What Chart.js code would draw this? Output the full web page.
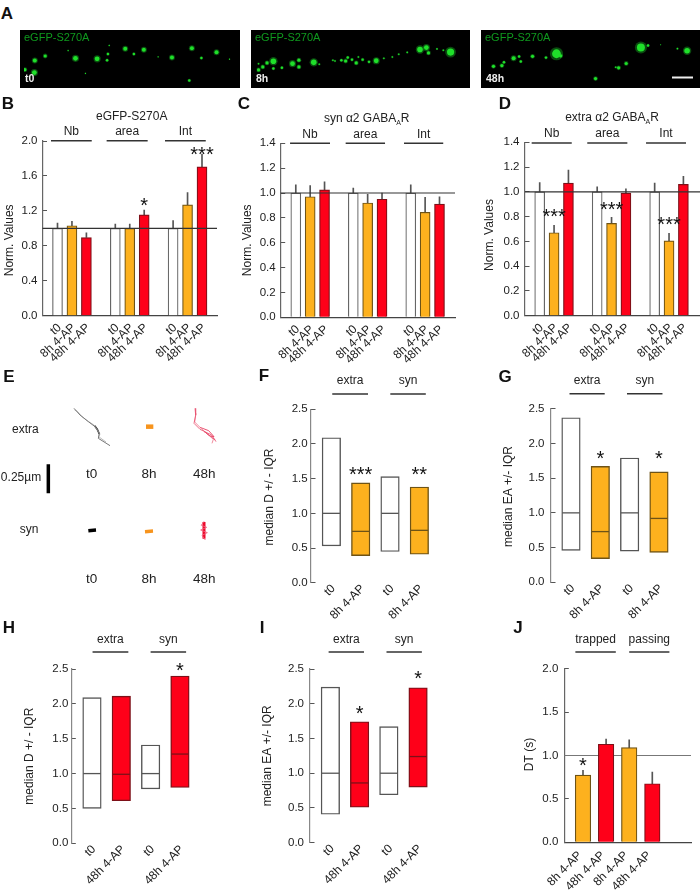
<!DOCTYPE html>
<html><head><meta charset="utf-8">
<style>
html,body{margin:0;padding:0;background:#fff;width:700px;height:890px;overflow:hidden;position:relative}
canvas{position:absolute;display:block}
.letter{position:absolute;font:bold 17px "Liberation Sans",Arial,sans-serif;color:#111;line-height:18px;transform:translate(-50%,-50%);z-index:5}
</style>
<script src="https://cdn.jsdelivr.net/npm/chart.js@4"></script>
</head><body>
<script>
// ---------- data ----------
const tripleIdx=[0,1,2,4,5,6,8,9,10];
const tripleLabels=['t0','8h 4-AP','48h 4-AP','t0','8h 4-AP','48h 4-AP','t0','8h 4-AP','48h 4-AP'];
const tripleKinds=['w','o','r','w','o','r','w','o','r'];
const groupLabels=['Nb','area','Int'];

const bValues=[1,1.03,0.895,1,1,1.155,1,1.27,1.705];
const bErrTop=[1.06,1.08,0.95,1.05,1.05,1.21,1.09,1.41,1.85];
const cValues=[1,0.97,1.025,1,0.92,0.95,1,0.845,0.91];
const cErrTop=[1.065,1.06,1.09,1.04,0.99,1.0,1.065,0.965,0.97];
const dValues=[1,0.67,1.07,1,0.745,0.99,1,0.605,1.06];
const dErrTop=[1.075,0.73,1.175,1.04,0.795,1.025,1.07,0.665,1.125];

const quadIdx=[0,1,2,3];
const fLabels=['t0','8h 4-AP','t0','8h 4-AP'];
const hLabels=['t0','48h 4-AP','t0','48h 4-AP'];
const fLow=[0.53,0.39,0.45,0.41], fHigh=[2.09,1.44,1.53,1.38], fMed=[1,0.74,1,0.755];
const gLow=[0.46,0.34,0.45,0.43], gHigh=[2.37,1.67,1.79,1.59], gMed=[1,0.73,1,0.92];
const hLow=[0.5,0.61,0.78,0.8],  hHigh=[2.09,2.11,1.41,2.4],  hMed=[1,0.99,1,1.28];
const iLow=[0.41,0.51,0.69,0.8], iHigh=[2.24,1.74,1.67,2.23], iMed=[1,0.86,1,1.24];

const jLabels=['8h 4-AP','48h 4-AP','8h 4-AP','48h 4-AP'];
const jValues=[0.775,1.13,1.09,0.675];
const jErrTop=[0.83,1.19,1.18,0.81];

// panel A: spots [x, y, radius] in image units
const spotsT0=[[2,125,2],[25,93,2.5],[49,77,2],[24,135,3],[102,58,.8],[119,85,3],[169,87,3],[194,70,1.5],[192,92,1.5],[234,52,2.5],[254,70,1.5],[277,55,2.5],[197,40,.8],[342,82,2.5],[388,50,2.5],[410,84,1.5],[445,64,2.5],[382,163,1.5],[475,88,.7],[142,138,.7],[310,80,.7]];
const spots8h=[[5,128,2],[15,117,2],[40,96,3.5],[25,102,2],[40,123,1.5],[60,120,1.5],[85,105,3],[100,92,2],[100,117,2],[135,100,3.5],[148,107,1],[185,95,1],[200,92,1.5],[215,82,1.5],[210,95,2],[225,90,1.5],[235,102,2],[250,90,1.5],[265,98,1.5],[282,94,3],[240,80,1],[320,80,1],[335,70,1],[355,63,1],[385,52,3.5],[400,45,3],[405,65,2],[457,62,4.5],[425,50,1],[440,55,1],[180,92,1],[300,85,1],[5,105,1]];
const spots48h=[[14,116,2],[34,113,2],[39,100,1.5],[62,85,2.5],[75,78,1.5],[79,97,1.5],[107,77,2],[139,82,1.5],[164,67,5.5],[174,75,2],[365,43,5],[382,35,1.5],[475,55,3.5],[452,47,1],[330,105,2],[312,122,2],[305,120,1],[257,164,2],[412,32,.6]];

// panel E: tracks in figure units
const trackExtraT0=[[222,55],[240,75],[265,95],[285,110],[298,130],[295,145],[330,167]];
const trackExtraT0b=[[224,60],[232,64],[246,80],[262,92],[283,106],[300,132],[296,140],[318,156]];
const trackExtraT0Core=[[284,107],[292,118],[298,132]];
const trackExtra8h=[[438,110],[460,110]];
const trackExtra48h=[[585,55],[587,75],[582,100],[600,118],[635,135],[648,155]];
const trackExtra48hB=[[588,70],[584,96],[604,116],[618,128],[640,148],[636,160]];
const trackExtra48hC=[[600,112],[626,122],[642,140],[630,138],[612,124],[646,150]];
const trackSynT0=[[265,422],[288,420]];
const trackSyn8h=[[435,425],[459,423]];
const trackSyn48h=[[612,394],[604,406],[620,412],[602,420],[622,428],[606,436],[616,450]];
const trackSyn48hCore=[[612,396],[612,446]];
const scaleBarE=[[145,223],[145,310]];

// ---------- helpers ----------
const FONT='"Liberation Sans",Arial,sans-serif';
const TXT='#222';
const COL={w:['#ffffff','#666666'],o:['#FDB11E','#6e5316'],r:['#FE0019','#7d1018']};
const pts=(a)=>a.map(p=>({x:p[0],y:p[1]}));

function mkCanvas(l,t,w,h){
  const c=document.createElement('canvas');
  c.width=w;c.height=h;
  c.style.cssText=`left:${l}px;top:${t}px;width:${w}px;height:${h}px`;
  document.body.appendChild(c);return c;
}
function starText(ctx,x,y,t){
  ctx.font='20px '+FONT;ctx.textAlign='center';ctx.textBaseline='alphabetic';ctx.fillStyle='#111';
  ctx.fillText(t,x,y+9.5);
}
function panel(cfg){
  const P=cfg.plot;
  const cl=Math.max(0,Math.round(cfg.titleX-7.2)), ct=Math.round(P.t-50), cr=Math.min(700,Math.round(P.r+8)), cb=Math.min(890,Math.round(P.b+62));
  const min=(P.l-cfg.x0)/cfg.dx, max=(P.r-cfg.x0)/cfg.dx;
  const idx=cfg.idx;
  const datasets=[];
  const bgs=cfg.kinds.map(k=>COL[k][0]);
  const bds=cfg.kinds.map((k,i)=>cfg.box&&k==='w'?'#555555':COL[k][1]);
  if(cfg.err){
    datasets.push({type:'bar',data:idx.map((x,i)=>({x,y:[cfg.values[i],cfg.err[i]]})),backgroundColor:'#555',borderWidth:0,barThickness:1,grouped:false,order:2});
  }
  if(cfg.box){
    datasets.push({type:'bar',data:idx.map((x,i)=>({x,y:[cfg.low[i],cfg.high[i]]})),backgroundColor:bgs,borderColor:bds,borderWidth:1.4,borderSkipped:false,barThickness:cfg.bw,grouped:false,order:1});
    datasets.push({type:'line',data:idx.map((x,i)=>({x,y:cfg.med[i]})),showLine:false,pointStyle:'line',pointRadius:cfg.bw/2-.5,pointBorderWidth:1.3,pointBorderColor:bds,pointHoverRadius:0,order:0,clip:false});
  }else{
    datasets.push({type:'bar',data:idx.map((x,i)=>({x,y:cfg.values[i]})),backgroundColor:bgs,borderColor:bds,borderWidth:1.2,borderSkipped:'start',barThickness:cfg.bw,grouped:false,order:1});
  }
  if(cfg.refLine){
    datasets.push({type:'line',data:[{x:min,y:1},{x:max,y:1}],borderColor:cfg.refColor||'#333',borderWidth:1.1,pointRadius:0,order:cfg.refBehind?3:0,clip:false});
  }
  const dy=cfg.titleDy||0;
  const annot={id:'annot',
    beforeDraw(chart){
      const s=chart.scales.y;
      if(!s._patched){const o=s.drawTitle;s.drawTitle=function(){const c=this.ctx;c.save();c.translate(0,dy);o.call(this);c.restore();};s._patched=true;}
    },
    afterDraw(chart){
      const ctx=chart.ctx,sx=chart.scales.x,sy=chart.scales.y;
      ctx.save();
      (cfg.groups||[]).forEach(g=>{
        const a=sx.getPixelForValue(g.from),b=sx.getPixelForValue(g.to),y=cfg.groupY-ct;
        ctx.strokeStyle='#333';ctx.lineWidth=1.5;ctx.beginPath();ctx.moveTo(a,y);ctx.lineTo(b,y);ctx.stroke();
        ctx.font='12px '+FONT;ctx.fillStyle=TXT;ctx.textAlign='center';ctx.textBaseline='middle';
        ctx.fillText(g.label,(a+b)/2,y-cfg.labelGap);
      });
      if(cfg.title){
        let w=0;cfg.title.forEach(s=>{ctx.font=s[1]+'px '+FONT;w+=ctx.measureText(s[0]).width;});
        let x=cfg.titleCx-cl-w/2,y=P.t-24.6-ct;
        ctx.textAlign='left';ctx.textBaseline='middle';ctx.fillStyle=TXT;
        cfg.title.forEach(s=>{ctx.font=s[1]+'px '+FONT;ctx.fillText(s[0],x,y+(s[2]||0));x+=ctx.measureText(s[0]).width;});
      }
      (cfg.stars||[]).forEach(s=>starText(ctx,sx.getPixelForValue(s.x),sy.getPixelForValue(s.y),s.t));
      ctx.restore();
    }};
  new Chart(mkCanvas(cl,ct,cr-cl,cb-ct),{
    type:'bar',
    data:{datasets},
    plugins:[annot],
    options:{
      responsive:false,animation:false,devicePixelRatio:1,
      layout:{padding:{top:P.t-ct,right:cr-P.r,left:0,bottom:0}},
      plugins:{legend:{display:false},tooltip:{enabled:false}},
      scales:{
        x:{type:'linear',min,max,bounds:'data',offset:false,
          grid:{display:false,drawTicks:false,offset:false},
          border:{display:cfg.xLine!==false,color:'#444',width:1.2},
          afterBuildTicks:s=>{s.ticks=idx.map(v=>({value:v}));},
          afterFit:s=>{s.height=cb-P.b;s.paddingLeft=0;s.paddingRight=0;},
          ticks:{autoSkip:false,maxRotation:cfg.rot||45,minRotation:cfg.rot||45,padding:cfg.xPad,labelOffset:cfg.xOff,color:TXT,font:{family:FONT,size:12},
            callback:(v)=>{const i=idx.indexOf(v);return i<0?'':cfg.labels[i];}}
        },
        y:{type:'linear',min:0,max:cfg.ymax,bounds:'data',
          grid:{display:true,drawOnChartArea:false,drawTicks:true,tickLength:-4.5,color:'#555',lineWidth:1},
          border:{display:true,color:cfg.yColor||'#666',width:1.2},
          afterFit:s=>{s.width=P.l-cl;s.paddingTop=0;s.paddingBottom=0;},
          title:{display:true,text:cfg.yTitle,color:TXT,font:{family:FONT,size:12},padding:0},
          ticks:{stepSize:cfg.step,padding:cfg.yGap+4.5,color:TXT,font:{family:FONT,size:11.5},callback:v=>v.toFixed(1)}
        }
      }
    }
  });
}

// ---------- panel A ----------
function micro(l,w,spots,name,bar){
  const t=30,h=58;
  new Chart(mkCanvas(l,t,w,h),{
    type:'scatter',
    data:{datasets:[
      {data:spots.map(p=>({x:p[0],y:p[1]})),pointRadius:spots.map(p=>p[2]*.8),pointBackgroundColor:'#1fe02a',borderWidth:0,pointBorderWidth:0,order:0},
      {data:spots.map(p=>({x:p[0],y:p[1]})),pointRadius:spots.map(p=>p[2]*1.2),pointBackgroundColor:'rgba(20,150,30,.5)',borderWidth:0,pointBorderWidth:0,order:1}
    ]},
    plugins:[{id:'bg',
      beforeDraw(c){c.ctx.fillStyle='#000';c.ctx.fillRect(0,0,c.width,c.height);},
      afterDraw(c){const x=c.ctx;x.save();
        x.font='11px '+FONT;x.textBaseline='middle';x.textAlign='left';x.fillStyle='#0f9a1e';x.fillText('eGFP-S270A',4,8);
        x.font='bold 10.5px '+FONT;x.fillStyle='#eee';x.fillText(name,5,49);
        if(bar){x.strokeStyle='#eee';x.lineWidth=2;x.beginPath();x.moveTo(c.width-28,47.5);x.lineTo(c.width-7,47.5);x.stroke();}
        x.restore();}
    }],
    options:{responsive:false,animation:false,devicePixelRatio:1,layout:{padding:0},
      plugins:{legend:{display:false},tooltip:{enabled:false}},
      scales:{x:{display:false,min:0,max:490},y:{display:false,min:0,max:175,reverse:true}}}
  });
}
micro(20,220,spotsT0,'t0',false);
micro(251,219,spots8h,'8h',false);
micro(481,219,spots48h,'48h',true);

// ---------- panels B, C, D ----------
const triple={idx:tripleIdx,labels:tripleLabels,kinds:tripleKinds,bw:10,refLine:true,xPad:5,xOff:2,rot:43};
panel({...triple,plot:{l:42.5,t:141,r:217,b:315.7},x0:57.5,dx:14.45,values:bValues,err:bErrTop,ymax:2.0,step:0.4,yGap:5,
  yTitle:'Norm. Values',titleX:9,titleDy:12,title:[['eGFP-S270A',12]],titleCx:131.7,groupY:140.7,labelGap:9,
  groups:[{label:groupLabels[0],from:-.45,to:2.37},{label:groupLabels[1],from:3.4,to:6.24},{label:groupLabels[2],from:7.44,to:10.26}],
  stars:[{x:6,y:1.3,t:'*'},{x:10,y:1.885,t:'***'}]});
panel({...triple,plot:{l:280.7,t:143.3,r:455,b:317.3},x0:295.8,dx:14.37,values:cValues,err:cErrTop,ymax:1.4,step:0.2,yGap:5,
  yTitle:'Norm. Values',titleX:246.7,titleDy:10,title:[['syn α2 GABA',12],['A',7,4],['R',12]],titleCx:366.7,groupY:143.3,labelGap:9,
  groups:[{label:groupLabels[0],from:-.4,to:2.38},{label:groupLabels[1],from:3.47,to:6.21},{label:groupLabels[2],from:7.53,to:10.26}]});
panel({...triple,plot:{l:525,t:142.3,r:700,b:315.7},x0:539.7,dx:14.37,values:dValues,err:dErrTop,ymax:1.4,step:0.2,yGap:5.5,
  yTitle:'Norm. Values',titleX:489,titleDy:6,title:[['extra α2 GABA',12],['A',7,4],['R',12]],titleCx:612,groupY:143,labelGap:9,
  groups:[{label:groupLabels[0],from:-.56,to:2.23},{label:groupLabels[1],from:3.31,to:6.1},{label:groupLabels[2],from:7.4,to:10.18}],
  stars:[{x:1,y:.829,t:'***'},{x:5,y:.88,t:'***'},{x:9,y:.76,t:'***'}]});

// ---------- panels F, G, H, I ----------
const box={idx:quadIdx,box:true,bw:18.5,xLine:false,ymax:2.5,step:0.5,yColor:'#888',xPad:-1,xOff:2};
const kindsO=['w','o','w','o'],kindsR=['w','r','w','r'];
const grp2=(a,b,c,d)=>[{label:'extra',from:a,to:b},{label:'syn',from:c,to:d}];
panel({...box,plot:{l:311,t:409.3,r:440,b:582.7},x0:331.7,dx:29.8,labels:fLabels,kinds:kindsO,low:fLow,high:fHigh,med:fMed,yGap:3.3,
  yTitle:'median D +/ - IQR',titleX:269,titleDy:1,groupY:394,labelGap:13,groups:grp2(.03,1.25,2.01,3.22),
  stars:[{x:1,y:1.61,t:'***'},{x:3,y:1.61,t:'**'}]});
panel({...box,plot:{l:551,t:408.7,r:680,b:582.3},x0:571.3,dx:29.8,labels:fLabels,kinds:kindsO,low:gLow,high:gHigh,med:gMed,yGap:6.5,
  yTitle:'median EA +/- IQR',titleX:508.3,titleDy:1,groupY:393.7,labelGap:13,groups:grp2(-.05,1.15,1.91,3.12),
  stars:[{x:1,y:1.824,t:'*'},{x:3,y:1.824,t:'*'}]});
panel({...box,plot:{l:71.3,t:669,r:200,b:843.3},x0:92.3,dx:29.8,labels:hLabels,kinds:kindsR,low:hLow,high:hHigh,med:hMed,yGap:3,
  yTitle:'median D +/ - IQR',titleX:29.3,titleDy:0,groupY:652,labelGap:12,groups:grp2(.02,1.24,2,3.21),
  stars:[{x:3,y:2.525,t:'*'}]});
panel({...box,plot:{l:310,t:669,r:440,b:842.7},x0:330.7,dx:29.7,labels:hLabels,kinds:kindsR,low:iLow,high:iHigh,med:iMed,yGap:6,
  yTitle:'median EA +/- IQR',titleX:266.7,titleDy:0,groupY:652,labelGap:12,groups:grp2(-.06,1.15,1.92,3.13),
  stars:[{x:1,y:1.9,t:'*'},{x:3,y:2.4,t:'*'}]});

// ---------- panel J ----------
panel({idx:quadIdx,labels:jLabels,kinds:['o','r','o','r'],bw:15.5,refLine:true,refBehind:true,refColor:'#777',xPad:6,xOff:-3,yGap:6,
  plot:{l:564.3,t:668.7,r:691,b:842.3},x0:583,dx:23.1,values:jValues,err:jErrTop,ymax:2.0,step:0.5,
  yTitle:'DT (s)',titleX:529.3,titleDy:-1,groupY:652,labelGap:12,
  groups:[{label:'trapped',from:-.33,to:1.42},{label:'passing',from:2,to:3.74}],
  stars:[{x:0,y:.917,t:'*'}]});

// ---------- panel E ----------
const trk=(d,c,w)=>({data:pts(d),borderColor:c,borderWidth:w,pointRadius:0,showLine:true,fill:false,tension:0});
new Chart(mkCanvas(0,390,240,240),{
  type:'scatter',
  data:{datasets:[
    trk(trackExtraT0,'#777',1),trk(trackExtraT0b,'#aaa',.8),trk(trackExtraT0Core,'#222',1.6),
    trk(trackExtra8h,'#f7941d',4.5),
    trk(trackExtra48h,'#e8506e',.8),trk(trackExtra48hB,'#ee7088',.8),trk(trackExtra48hC,'#e4284f',.8),
    trk(trackSynT0,'#000',3.5),trk(trackSyn8h,'#f7941d',3.5),
    trk(trackSyn48h,'#f0607c',.9),trk(trackSyn48hCore,'#ee0a2c',3),
    trk(scaleBarE,'#000',3.5)
  ]},
  plugins:[{id:'txt',afterDraw(c){
    const x=c.ctx,sx=c.scales.x,sy=c.scales.y;
    const tx=(s,a,b,f)=>{x.font=f+'px '+FONT;x.fillText(s,sx.getPixelForValue(a),sy.getPixelForValue(b));};
    x.save();x.fillStyle=TXT;x.textAlign='center';x.textBaseline='middle';
    tx('extra',76,118,12);tx('syn',87,418,12);tx('0.25µm',63,262,12);
    [253,568].forEach(b=>{tx('t0',275,b,13.5);tx('8h',447,b,13.5);tx('48h',613,b,13.5);});
    x.restore();
  }}],
  options:{responsive:false,animation:false,devicePixelRatio:1,layout:{padding:0},
    plugins:{legend:{display:false},tooltip:{enabled:false}},
    scales:{x:{display:false,min:0,max:720},y:{display:false,min:0,max:720,reverse:true}}}
});

// ---------- panel letters ----------
[['A',7,14],['B',8,104],['C',244,104],['D',505,104],['E',9,377],['F',264,376],['G',505,377],['H',9,628],['I',262,628],['J',518,628]].forEach(l=>{
  const d=document.createElement('div');d.className='letter';d.textContent=l[0];d.style.left=l[1]+'px';d.style.top=l[2]+'px';document.body.appendChild(d);
});
</script>
</body></html>
